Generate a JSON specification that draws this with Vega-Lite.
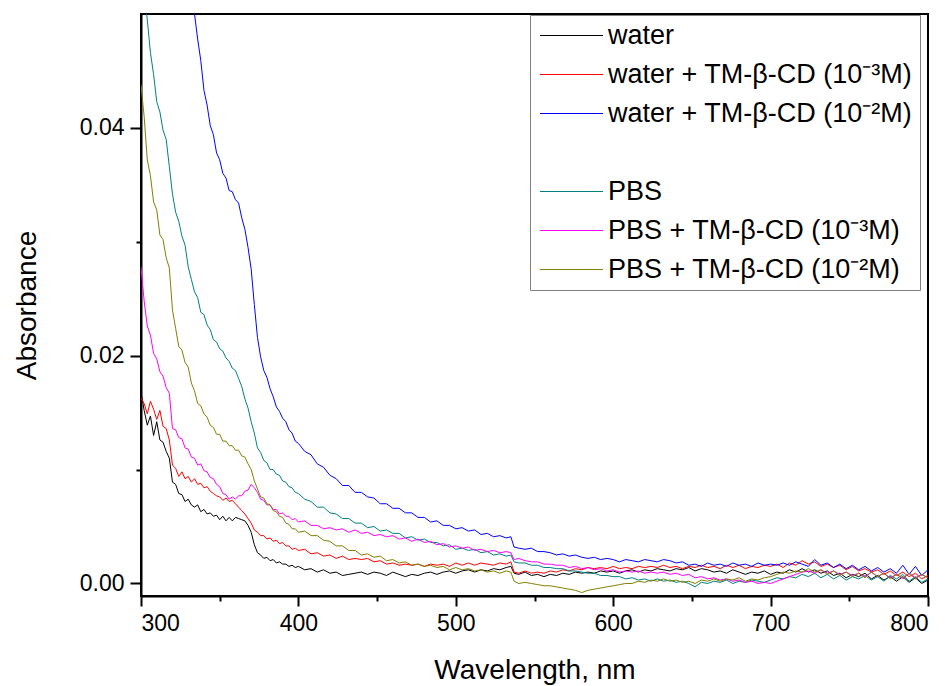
{
"$schema": "https://vega.github.io/schema/vega-lite/v6.json",
"width": 787, "height": 582,
"autosize": "none",
"padding": {"left": 141, "top": 14, "right": 22, "bottom": 90},
"background": "white",
"config": {"view": {"stroke": "black", "strokeWidth": 2}, "font": "Liberation Sans"},
"data": {"values": [
{"x":300,"a":0.0168,"b":0.0163,"c":0.0750,"d":0.0560,"e":0.0278,"f":0.0438},
{"x":302,"a":0.0152,"b":0.0158,"c":0.0735,"d":0.0520,"e":0.0248,"f":0.0410},
{"x":304,"a":0.0139,"b":0.0149,"c":0.0720,"d":0.0495,"e":0.0226,"f":0.0372},
{"x":306,"a":0.0147,"b":0.0160,"c":0.0705,"d":0.0466,"e":0.0218,"f":0.0358},
{"x":308,"a":0.0130,"b":0.0153,"c":0.0690,"d":0.0447,"e":0.0202,"f":0.0335},
{"x":310,"a":0.0142,"b":0.0144,"c":0.0675,"d":0.0423,"e":0.0197,"f":0.0328},
{"x":312,"a":0.0126,"b":0.0152,"c":0.0660,"d":0.0414,"e":0.0186,"f":0.0306},
{"x":314,"a":0.0124,"b":0.0138,"c":0.0645,"d":0.0398,"e":0.0182,"f":0.0302},
{"x":316,"a":0.0116,"b":0.0136,"c":0.0630,"d":0.0390,"e":0.0172,"f":0.0286},
{"x":318,"a":0.0110,"b":0.0126,"c":0.0615,"d":0.0366,"e":0.0167,"f":0.0277},
{"x":320,"a":0.0089,"b":0.0104,"c":0.0600,"d":0.0342,"e":0.0136,"f":0.0240},
{"x":322,"a":0.0087,"b":0.0101,"c":0.0585,"d":0.0326,"e":0.0135,"f":0.0224},
{"x":324,"a":0.0079,"b":0.0094,"c":0.0570,"d":0.0318,"e":0.0128,"f":0.0208},
{"x":326,"a":0.0078,"b":0.0098,"c":0.0555,"d":0.0305,"e":0.0127,"f":0.0205},
{"x":328,"a":0.0072,"b":0.0092,"c":0.0540,"d":0.0297,"e":0.0119,"f":0.0194},
{"x":330,"a":0.0074,"b":0.0094,"c":0.0525,"d":0.0278,"e":0.0118,"f":0.0190},
{"x":332,"a":0.0069,"b":0.0089,"c":0.0512,"d":0.0267,"e":0.0111,"f":0.0176},
{"x":334,"a":0.0067,"b":0.0092,"c":0.0500,"d":0.0256,"e":0.0110,"f":0.0169},
{"x":336,"a":0.0069,"b":0.0087,"c":0.0478,"d":0.0251,"e":0.0104,"f":0.0158},
{"x":338,"a":0.0063,"b":0.0088,"c":0.0459,"d":0.0238,"e":0.0105,"f":0.0156},
{"x":340,"a":0.0065,"b":0.0084,"c":0.0433,"d":0.0236,"e":0.0099,"f":0.0149},
{"x":342,"a":0.0061,"b":0.0085,"c":0.0420,"d":0.0227,"e":0.0098,"f":0.0146},
{"x":344,"a":0.0062,"b":0.0081,"c":0.0402,"d":0.0223,"e":0.0093,"f":0.0139},
{"x":346,"a":0.0059,"b":0.0079,"c":0.0394,"d":0.0214,"e":0.0092,"f":0.0137},
{"x":348,"a":0.0060,"b":0.0077,"c":0.0378,"d":0.0212,"e":0.0087,"f":0.0131},
{"x":350,"a":0.0056,"b":0.0076,"c":0.0372,"d":0.0206,"e":0.0085,"f":0.0131},
{"x":352,"a":0.0059,"b":0.0073,"c":0.0360,"d":0.0204,"e":0.0079,"f":0.0125},
{"x":354,"a":0.0055,"b":0.0075,"c":0.0356,"d":0.0198,"e":0.0078,"f":0.0125},
{"x":356,"a":0.0058,"b":0.0072,"c":0.0345,"d":0.0195,"e":0.0074,"f":0.0121},
{"x":358,"a":0.0055,"b":0.0073,"c":0.0344,"d":0.0189,"e":0.0076,"f":0.0121},
{"x":360,"a":0.0058,"b":0.0070,"c":0.0337,"d":0.0187,"e":0.0074,"f":0.0117},
{"x":362,"a":0.0057,"b":0.0067,"c":0.0334,"d":0.0180,"e":0.0077,"f":0.0117},
{"x":364,"a":0.0056,"b":0.0064,"c":0.0321,"d":0.0173,"e":0.0077,"f":0.0112},
{"x":366,"a":0.0055,"b":0.0061,"c":0.0311,"d":0.0162,"e":0.0081,"f":0.0111},
{"x":368,"a":0.0051,"b":0.0057,"c":0.0295,"d":0.0154,"e":0.0082,"f":0.0105},
{"x":370,"a":0.0045,"b":0.0053,"c":0.0276,"d":0.0142,"e":0.0087,"f":0.0100},
{"x":372,"a":0.0034,"b":0.0047,"c":0.0245,"d":0.0132,"e":0.0084,"f":0.0090},
{"x":374,"a":0.0027,"b":0.0045,"c":0.0216,"d":0.0119,"e":0.0080,"f":0.0083},
{"x":376,"a":0.0025,"b":0.0042,"c":0.0199,"d":0.0115,"e":0.0074,"f":0.0076},
{"x":378,"a":0.0022,"b":0.0042,"c":0.0187,"d":0.0108,"e":0.0073,"f":0.0075},
{"x":380,"a":0.0023,"b":0.0039,"c":0.0181,"d":0.0106,"e":0.0069,"f":0.0070},
{"x":382,"a":0.0020,"b":0.0040,"c":0.0171,"d":0.0100,"e":0.0069,"f":0.0069},
{"x":384,"a":0.0021,"b":0.0037,"c":0.0164,"d":0.0100,"e":0.0065,"f":0.0064},
{"x":386,"a":0.0018,"b":0.0038,"c":0.0155,"d":0.0096,"e":0.0065,"f":0.0063},
{"x":388,"a":0.0019,"b":0.0035,"c":0.0151,"d":0.0095,"e":0.0061,"f":0.0059},
{"x":390,"a":0.0017,"b":0.0036,"c":0.0145,"d":0.0090,"e":0.0062,"f":0.0058},
{"x":392,"a":0.0017,"b":0.0033,"c":0.0142,"d":0.0089,"e":0.0059,"f":0.0053},
{"x":394,"a":0.0015,"b":0.0033,"c":0.0135,"d":0.0085,"e":0.0059,"f":0.0052},
{"x":396,"a":0.0016,"b":0.0030,"c":0.0132,"d":0.0084,"e":0.0056,"f":0.0048},
{"x":398,"a":0.0014,"b":0.0031,"c":0.0125,"d":0.0080,"e":0.0057,"f":0.0048},
{"x":400,"a":0.0015,"b":0.0029,"c":0.0123,"d":0.0079,"e":0.0054,"f":0.0045},
{"x":404,"a":0.0012,"b":0.0030,"c":0.0116,"d":0.0074,"e":0.0055,"f":0.0046},
{"x":408,"a":0.0013,"b":0.0026,"c":0.0113,"d":0.0072,"e":0.0051,"f":0.0042},
{"x":412,"a":0.0010,"b":0.0027,"c":0.0105,"d":0.0067,"e":0.0051,"f":0.0042},
{"x":416,"a":0.0012,"b":0.0024,"c":0.0102,"d":0.0067,"e":0.0048,"f":0.0038},
{"x":420,"a":0.0009,"b":0.0025,"c":0.0095,"d":0.0062,"e":0.0049,"f":0.0037},
{"x":424,"a":0.0010,"b":0.0022,"c":0.0092,"d":0.0061,"e":0.0047,"f":0.0033},
{"x":428,"a":0.0007,"b":0.0024,"c":0.0086,"d":0.0057,"e":0.0048,"f":0.0033},
{"x":432,"a":0.0008,"b":0.0021,"c":0.0086,"d":0.0057,"e":0.0045,"f":0.0029},
{"x":436,"a":0.0009,"b":0.0022,"c":0.0080,"d":0.0053,"e":0.0047,"f":0.0029},
{"x":440,"a":0.0010,"b":0.0021,"c":0.0080,"d":0.0053,"e":0.0044,"f":0.0025},
{"x":444,"a":0.0008,"b":0.0022,"c":0.0076,"d":0.0049,"e":0.0045,"f":0.0026},
{"x":448,"a":0.0010,"b":0.0019,"c":0.0075,"d":0.0050,"e":0.0042,"f":0.0023},
{"x":452,"a":0.0009,"b":0.0020,"c":0.0070,"d":0.0046,"e":0.0043,"f":0.0024},
{"x":456,"a":0.0007,"b":0.0017,"c":0.0070,"d":0.0047,"e":0.0041,"f":0.0020},
{"x":460,"a":0.0010,"b":0.0018,"c":0.0066,"d":0.0044,"e":0.0042,"f":0.0021},
{"x":464,"a":0.0008,"b":0.0016,"c":0.0066,"d":0.0044,"e":0.0039,"f":0.0018},
{"x":468,"a":0.0006,"b":0.0017,"c":0.0062,"d":0.0040,"e":0.0040,"f":0.0019},
{"x":472,"a":0.0008,"b":0.0016,"c":0.0062,"d":0.0041,"e":0.0037,"f":0.0016},
{"x":476,"a":0.0007,"b":0.0017,"c":0.0058,"d":0.0038,"e":0.0039,"f":0.0017},
{"x":480,"a":0.0009,"b":0.0015,"c":0.0058,"d":0.0039,"e":0.0036,"f":0.0015},
{"x":484,"a":0.0010,"b":0.0017,"c":0.0054,"d":0.0036,"e":0.0037,"f":0.0016},
{"x":488,"a":0.0008,"b":0.0016,"c":0.0055,"d":0.0036,"e":0.0034,"f":0.0014},
{"x":492,"a":0.0010,"b":0.0017,"c":0.0051,"d":0.0033,"e":0.0035,"f":0.0015},
{"x":496,"a":0.0011,"b":0.0015,"c":0.0051,"d":0.0034,"e":0.0032,"f":0.0012},
{"x":500,"a":0.0009,"b":0.0018,"c":0.0048,"d":0.0030,"e":0.0033,"f":0.0014},
{"x":504,"a":0.0011,"b":0.0016,"c":0.0049,"d":0.0031,"e":0.0031,"f":0.0012},
{"x":508,"a":0.0012,"b":0.0018,"c":0.0046,"d":0.0029,"e":0.0032,"f":0.0013},
{"x":512,"a":0.0010,"b":0.0016,"c":0.0047,"d":0.0030,"e":0.0029,"f":0.0011},
{"x":516,"a":0.0012,"b":0.0018,"c":0.0043,"d":0.0027,"e":0.0030,"f":0.0012},
{"x":520,"a":0.0011,"b":0.0017,"c":0.0044,"d":0.0028,"e":0.0028,"f":0.0010},
{"x":524,"a":0.0013,"b":0.0016,"c":0.0041,"d":0.0025,"e":0.0029,"f":0.0011},
{"x":528,"a":0.0012,"b":0.0018,"c":0.0042,"d":0.0026,"e":0.0027,"f":0.0009},
{"x":532,"a":0.0014,"b":0.0017,"c":0.0040,"d":0.0024,"e":0.0028,"f":0.0011},
{"x":535,"a":0.0015,"b":0.0019,"c":0.0041,"d":0.0025,"e":0.0027,"f":0.0010},
{"x":537,"a":0.0009,"b":0.0010,"c":0.0032,"d":0.0019,"e":0.0021,"f":0.0002},
{"x":540,"a":0.0008,"b":0.0009,"c":0.0031,"d":0.0018,"e":0.0022,"f":0.0000},
{"x":544,"a":0.0010,"b":0.0011,"c":0.0030,"d":0.0018,"e":0.0020,"f":0.0001},
{"x":548,"a":0.0007,"b":0.0009,"c":0.0031,"d":0.0016,"e":0.0019,"f":0.0000},
{"x":552,"a":0.0008,"b":0.0010,"c":0.0028,"d":0.0016,"e":0.0019,"f":-0.0001},
{"x":556,"a":0.0006,"b":0.0009,"c":0.0028,"d":0.0014,"e":0.0017,"f":-0.0002},
{"x":560,"a":0.0008,"b":0.0011,"c":0.0027,"d":0.0014,"e":0.0017,"f":-0.0002},
{"x":564,"a":0.0007,"b":0.0010,"c":0.0025,"d":0.0013,"e":0.0016,"f":-0.0003},
{"x":568,"a":0.0009,"b":0.0012,"c":0.0026,"d":0.0013,"e":0.0016,"f":-0.0004},
{"x":572,"a":0.0008,"b":0.0011,"c":0.0024,"d":0.0011,"e":0.0014,"f":-0.0005},
{"x":576,"a":0.0010,"b":0.0013,"c":0.0025,"d":0.0011,"e":0.0015,"f":-0.0006},
{"x":580,"a":0.0009,"b":0.0012,"c":0.0023,"d":0.0010,"e":0.0013,"f":-0.0008},
{"x":584,"a":0.0010,"b":0.0014,"c":0.0022,"d":0.0009,"e":0.0014,"f":-0.0006},
{"x":588,"a":0.0009,"b":0.0013,"c":0.0023,"d":0.0009,"e":0.0012,"f":-0.0005},
{"x":592,"a":0.0011,"b":0.0014,"c":0.0021,"d":0.0007,"e":0.0013,"f":-0.0004},
{"x":596,"a":0.0010,"b":0.0013,"c":0.0022,"d":0.0007,"e":0.0011,"f":-0.0003},
{"x":600,"a":0.0011,"b":0.0015,"c":0.0021,"d":0.0006,"e":0.0012,"f":-0.0002},
{"x":604,"a":0.0009,"b":0.0013,"c":0.0019,"d":0.0006,"e":0.0010,"f":-0.0001},
{"x":608,"a":0.0011,"b":0.0014,"c":0.0021,"d":0.0004,"e":0.0011,"f":0.0000},
{"x":612,"a":0.0012,"b":0.0013,"c":0.0020,"d":0.0005,"e":0.0010,"f":0.0000},
{"x":616,"a":0.0010,"b":0.0015,"c":0.0019,"d":0.0003,"e":0.0011,"f":0.0002},
{"x":620,"a":0.0012,"b":0.0014,"c":0.0021,"d":0.0004,"e":0.0009,"f":0.0001},
{"x":624,"a":0.0011,"b":0.0015,"c":0.0020,"d":0.0002,"e":0.0010,"f":0.0003},
{"x":628,"a":0.0013,"b":0.0014,"c":0.0019,"d":0.0004,"e":0.0009,"f":0.0002},
{"x":632,"a":0.0012,"b":0.0016,"c":0.0021,"d":0.0002,"e":0.0010,"f":0.0004},
{"x":636,"a":0.0011,"b":0.0014,"c":0.0020,"d":0.0003,"e":0.0008,"f":0.0002},
{"x":640,"a":0.0013,"b":0.0015,"c":0.0018,"d":0.0001,"e":0.0009,"f":0.0003},
{"x":644,"a":0.0012,"b":0.0013,"c":0.0019,"d":0.0002,"e":0.0007,"f":0.0001},
{"x":648,"a":0.0014,"b":0.0015,"c":0.0016,"d":0.0000,"e":0.0008,"f":0.0002},
{"x":652,"a":0.0011,"b":0.0014,"c":0.0017,"d":-0.0003,"e":0.0005,"f":0.0000},
{"x":656,"a":0.0013,"b":0.0016,"c":0.0015,"d":0.0001,"e":0.0006,"f":0.0003},
{"x":660,"a":0.0012,"b":0.0014,"c":0.0018,"d":0.0000,"e":0.0004,"f":0.0002},
{"x":664,"a":0.0010,"b":0.0015,"c":0.0016,"d":0.0002,"e":0.0005,"f":0.0004},
{"x":668,"a":0.0011,"b":0.0013,"c":0.0017,"d":0.0001,"e":0.0003,"f":0.0002},
{"x":672,"a":0.0009,"b":0.0016,"c":0.0015,"d":0.0003,"e":0.0004,"f":0.0004},
{"x":676,"a":0.0012,"b":0.0014,"c":0.0018,"d":0.0000,"e":0.0002,"f":0.0003},
{"x":680,"a":0.0010,"b":0.0016,"c":0.0016,"d":0.0002,"e":0.0003,"f":0.0005},
{"x":684,"a":0.0008,"b":0.0013,"c":0.0017,"d":0.0001,"e":0.0001,"f":0.0002},
{"x":688,"a":0.0010,"b":0.0015,"c":0.0015,"d":0.0003,"e":0.0002,"f":0.0004},
{"x":692,"a":0.0009,"b":0.0014,"c":0.0018,"d":0.0002,"e":0.0000,"f":0.0003},
{"x":696,"a":0.0011,"b":0.0016,"c":0.0016,"d":0.0001,"e":0.0001,"f":0.0005},
{"x":700,"a":0.0008,"b":0.0015,"c":0.0017,"d":0.0003,"e":0.0000,"f":0.0006},
{"x":704,"a":0.0010,"b":0.0017,"c":0.0016,"d":0.0005,"e":0.0002,"f":0.0008},
{"x":708,"a":0.0009,"b":0.0014,"c":0.0018,"d":0.0004,"e":0.0004,"f":0.0010},
{"x":712,"a":0.0012,"b":0.0018,"c":0.0016,"d":0.0006,"e":0.0006,"f":0.0009},
{"x":716,"a":0.0010,"b":0.0016,"c":0.0019,"d":0.0005,"e":0.0008,"f":0.0011},
{"x":720,"a":0.0013,"b":0.0020,"c":0.0017,"d":0.0008,"e":0.0010,"f":0.0010},
{"x":724,"a":0.0010,"b":0.0017,"c":0.0015,"d":0.0006,"e":0.0011,"f":0.0013},
{"x":728,"a":0.0012,"b":0.0019,"c":0.0021,"d":0.0009,"e":0.0009,"f":0.0010},
{"x":732,"a":0.0009,"b":0.0015,"c":0.0016,"d":0.0005,"e":0.0012,"f":0.0012},
{"x":736,"a":0.0011,"b":0.0017,"c":0.0018,"d":0.0008,"e":0.0009,"f":0.0008},
{"x":740,"a":0.0007,"b":0.0014,"c":0.0014,"d":0.0004,"e":0.0011,"f":0.0011},
{"x":744,"a":0.0009,"b":0.0016,"c":0.0017,"d":0.0007,"e":0.0008,"f":0.0007},
{"x":748,"a":0.0005,"b":0.0012,"c":0.0013,"d":0.0003,"e":0.0010,"f":0.0010},
{"x":752,"a":0.0008,"b":0.0015,"c":0.0016,"d":0.0006,"e":0.0007,"f":0.0006},
{"x":756,"a":0.0006,"b":0.0011,"c":0.0012,"d":0.0004,"e":0.0009,"f":0.0009},
{"x":760,"a":0.0009,"b":0.0013,"c":0.0015,"d":0.0007,"e":0.0006,"f":0.0005},
{"x":764,"a":0.0004,"b":0.0010,"c":0.0011,"d":0.0003,"e":0.0010,"f":0.0010},
{"x":768,"a":0.0007,"b":0.0012,"c":0.0014,"d":0.0006,"e":0.0006,"f":0.0006},
{"x":772,"a":0.0003,"b":0.0008,"c":0.0010,"d":0.0002,"e":0.0009,"f":0.0009},
{"x":776,"a":0.0006,"b":0.0011,"c":0.0013,"d":0.0007,"e":0.0005,"f":0.0004},
{"x":780,"a":0.0002,"b":0.0007,"c":0.0009,"d":0.0004,"e":0.0008,"f":0.0008},
{"x":784,"a":0.0006,"b":0.0010,"c":0.0016,"d":0.0008,"e":0.0004,"f":0.0005},
{"x":788,"a":0.0001,"b":0.0006,"c":0.0008,"d":0.0002,"e":0.0009,"f":0.0009},
{"x":792,"a":0.0005,"b":0.0009,"c":0.0015,"d":0.0006,"e":0.0005,"f":0.0004},
{"x":796,"a":0.0000,"b":0.0004,"c":0.0007,"d":0.0001,"e":0.0008,"f":0.0008},
{"x":800,"a":0.0003,"b":0.0007,"c":0.0012,"d":0.0004,"e":0.0005,"f":0.0005}
]},
"transform": [{"fold": ["a","b","c","d","e","f"], "as": ["s","v"]}],
"mark": {"type": "line", "clip": true, "strokeWidth": 1},
"encoding": {
  "x": {"field": "x", "type": "quantitative",
        "scale": {"domain": [300, 800], "nice": false, "zero": false},
        "axis": {"values": [300,350,400,450,500,550,600,650,700,750,800],
                 "labelExpr": "datum.value % 100 === 0 ? datum.label : ''",
                 "format": "d", "grid": false,
                 "tickSize": {"condition": {"test": "datum.value % 100 === 0", "value": 10}, "value": 5},
                 "tickWidth": 2, "tickColor": "black", "domainColor": "black", "domainWidth": 2,
                 "labelFontSize": 23, "labelColor": "black", "labelPadding": 6, "labelFont": "Liberation Sans",
                 "title": "Wavelength, nm", "titleFontSize": 28, "titleFontWeight": "normal", "titleColor": "black",
                 "titleFont": "Liberation Sans", "titlePadding": 21}},
  "y": {"field": "v", "type": "quantitative",
        "scale": {"domain": [-0.0011, 0.05], "nice": false, "zero": false},
        "axis": {"values": [0, 0.01, 0.02, 0.03, 0.04],
                 "labelExpr": "(datum.value == 0 || datum.value == 0.02 || datum.value == 0.04) ? format(datum.value, '.2f') : ''",
                 "grid": false,
                 "tickSize": {"condition": {"test": "datum.value == 0 || datum.value == 0.02 || datum.value == 0.04", "value": 11}, "value": 5},
                 "tickWidth": 2, "tickColor": "black", "domainColor": "black", "domainWidth": 2,
                 "labelFontSize": 23, "labelColor": "black", "labelPadding": 6, "labelFont": "Liberation Sans",
                 "title": "Absorbance", "titleFontSize": 28, "titleFontWeight": "normal", "titleColor": "black",
                 "titleFont": "Liberation Sans", "titlePadding": 38}},
  "color": {"field": "s", "type": "nominal",
            "scale": {"domain": ["a","b","c","g","d","e","f"],
                      "range": ["#000000","#FF0000","#0000FF","rgba(255,255,255,0)","#008080","#FF00FF","#808000"]},
            "legend": {"orient": "none", "legendX": 389, "legendY": 1, "title": null,
                       "symbolType": "M-1,0H5", "symbolSize": 441, "symbolStrokeWidth": 1, "symbolFillColor": "transparent",
                       "labelFontSize": 27, "labelColor": "black", "labelFont": "Liberation Sans", "labelLimit": 0,
                       "labelOffset": 44, "rowPadding": 11, "padding": 7,
                       "strokeColor": "#808080", "fillColor": "white",
                       "encode": {"symbols": {"update": {"stroke": {"scale": "color", "field": "value"}, "fill": {"value": "transparent"}, "strokeWidth": {"value": 1}, "opacity": {"value": 1}}}},
                       "labelExpr": "({'a':'water','b':'water + TM-β-CD (10⁻³M)','c':'water + TM-β-CD (10⁻²M)','g':'','d':'PBS','e':'PBS + TM-β-CD (10⁻³M)','f':'PBS + TM-β-CD (10⁻²M)'})[datum.value]"}}
}
}
